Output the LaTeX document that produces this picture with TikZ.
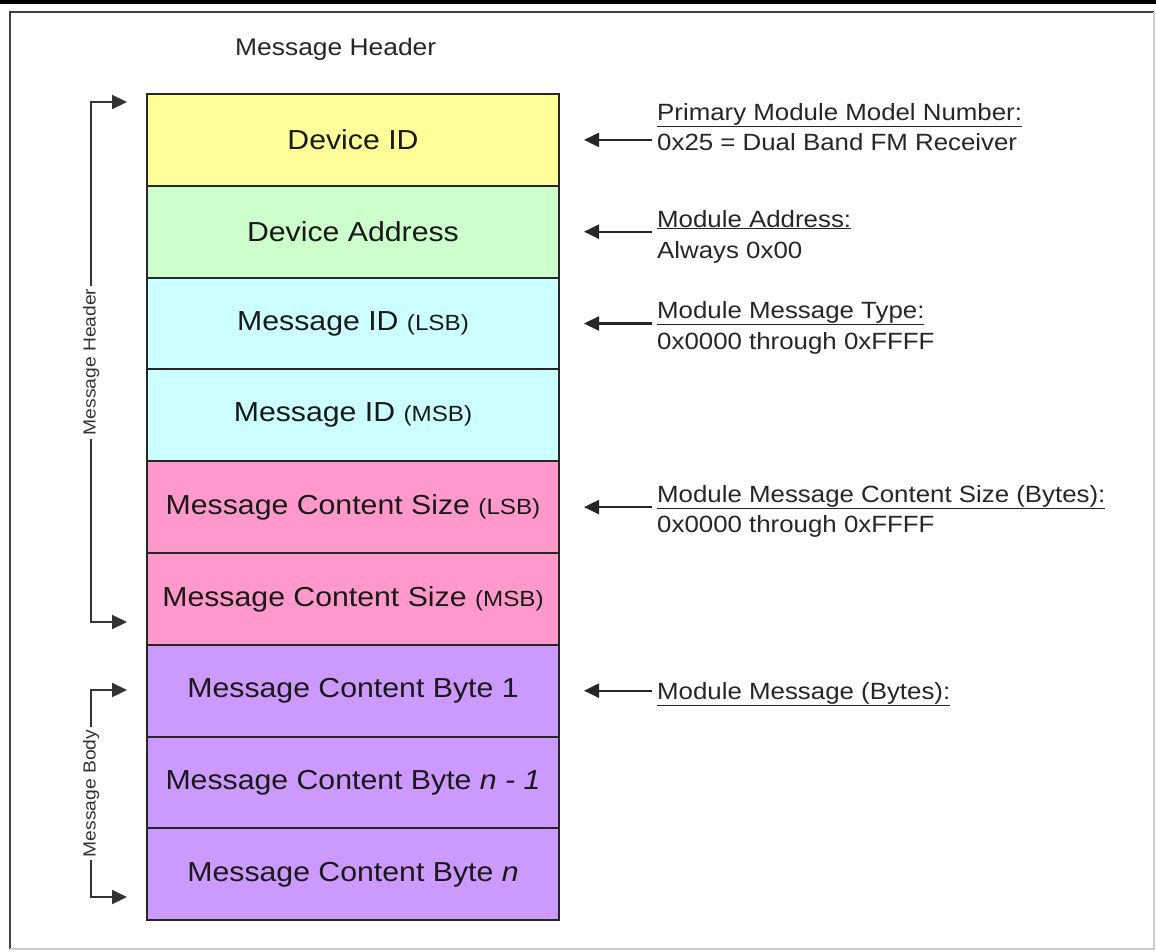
\documentclass[tikz,border=0pt]{standalone}
\usepackage{fontspec}
\setmainfont{Liberation Sans}[FakeStretch=1.1]
\usetikzlibrary{positioning, calc, arrows.meta}

\definecolor{idyellow}{HTML}{FFFF99}
\definecolor{addrgreen}{HTML}{CCFFCC}
\definecolor{msgcyan}{HTML}{CCFFFF}
\definecolor{sizepink}{HTML}{FF99CC}
\definecolor{bodypurple}{HTML}{CC99FF}

% smaller (LSB)/(MSB) suffix inside the fields
\newcommand{\bytepart}[1]{{\fontsize{22}{26}\selectfont #1}}

\begin{document}
\begin{tikzpicture}[
    x=1pt, y=-1pt,
    field/.style={draw=black!85, line width=2pt, minimum width=412pt, minimum height=91.8pt, inner sep=0pt, outer sep=0pt, text=black!90, font=\fontsize{27.5}{33}\selectfont},
    note/.style={anchor=base west, inner sep=0pt, text=black!85, font=\fontsize{23.5}{30}\selectfont},
    title/.style={anchor=base west, inner sep=0pt, text=black!85, font=\fontsize{24}{28}\selectfont},
    side/.style={rotate=90, fill=white, inner sep=3pt, text=black!80, font=\fontsize{17.5}{20}\selectfont},
    pointer/.style={-{Triangle[length=15pt,width=14pt]}, line width=2.4pt, black!85},
    bracket/.style={-{Triangle[length=15pt,width=14pt]}, line width=2.2pt, black!80}
]
    \useasboundingbox (0,0) rectangle (1156,951);

    % ================= FRAME =================
    \fill[black] (0,0) rectangle (1156,3.5);
    \draw[black!75, line width=2.5pt] (10,949) -- (10,12) -- (1154,12);
    \draw[black!20, line width=2pt] (1154,12) -- (1154,949) -- (10,949);

    \node[title] (title) at (235,55) {Message Header};

    % ================= FIELDS =================
    \node[field, fill=idyellow] (DEVID) at (353,139.9) {Device ID};
    \node[field, fill=addrgreen] (DEVADDR) at (353,231.7) {Device Address};
    \node[field, fill=msgcyan] (MSGIDL) at (353,323.5) {Message ID \bytepart{(LSB)}};
    \node[field, fill=msgcyan] (MSGIDM) at (353,415.3) {Message ID \bytepart{(MSB)}};
    \node[field, fill=sizepink] (SIZEL) at (353,507.1) {Message Content Size \bytepart{(LSB)}};
    \node[field, fill=sizepink] (SIZEM) at (353,598.9) {Message Content Size \bytepart{(MSB)}};
    \node[field, fill=bodypurple] (BYTE1) at (353,690.7) {Message Content Byte 1};
    \node[field, fill=bodypurple] (BYTEN1) at (353,782.5) {Message Content Byte \textit{n - 1}};
    \node[field, fill=bodypurple] (BYTEN) at (353,874.3) {Message Content Byte \textit{n}};

    % ================= BRACKETS =================
    % Header: Device ID .. Message Content Size (MSB)
    \node[side] (hdr_side) at (91,362) {Message Header};
    \coordinate (hdr_top) at (127,102);
    \coordinate (hdr_bot) at (127,622);
    \draw[bracket] (hdr_side) |- (hdr_top);
    \draw[bracket] (hdr_side) |- (hdr_bot);

    % Body: content bytes
    \node[side] (body_side) at (91,793.5) {Message Body};
    \coordinate (body_top) at (127,690);
    \coordinate (body_bot) at (127,897);
    \draw[bracket] (body_side) |- (body_top);
    \draw[bracket] (body_side) |- (body_bot);

    % ================= NOTES =================
    % --- Device ID ---
    \node[note] (h_devid) at (657,120) {\underline{Primary Module Model Number:}};
    \node[note] (v_devid) at (657,150) {0x25 = Dual Band FM Receiver};

    % --- Device Address ---
    \node[note] (h_addr) at (657,227) {\underline{Module Address:}};
    \node[note] (v_addr) at (657,258) {Always 0x00};

    % --- Message ID ---
    \node[note] (h_msgid) at (657,318) {\underline{Module Message Type:}};
    \node[note] (v_msgid) at (657,349) {0x0000 through 0xFFFF};

    % --- Content Size ---
    \node[note] (h_size) at (657,502) {\underline{Module Message Content Size (Bytes):}};
    \node[note] (v_size) at (657,532) {0x0000 through 0xFFFF};

    % --- Content Bytes ---
    \node[note] (h_body) at (657,699) {\underline{Module Message (Bytes):}};

    \draw[pointer, shorten <=5pt, shorten >=25pt] (h_devid.west |- DEVID.east) -- (DEVID.east);
    \draw[pointer, shorten <=5pt, shorten >=25pt] (h_addr.west |- DEVADDR.east) -- (DEVADDR.east);
    \draw[pointer, shorten <=5pt, shorten >=25pt] (h_msgid.west |- MSGIDL.east) -- (MSGIDL.east);
    \draw[pointer, shorten <=5pt, shorten >=25pt] (h_size.west |- SIZEL.east) -- (SIZEL.east);
    \draw[pointer, shorten <=5pt, shorten >=25pt] (h_body.west |- BYTE1.east) -- (BYTE1.east);

\end{tikzpicture}
\end{document}
